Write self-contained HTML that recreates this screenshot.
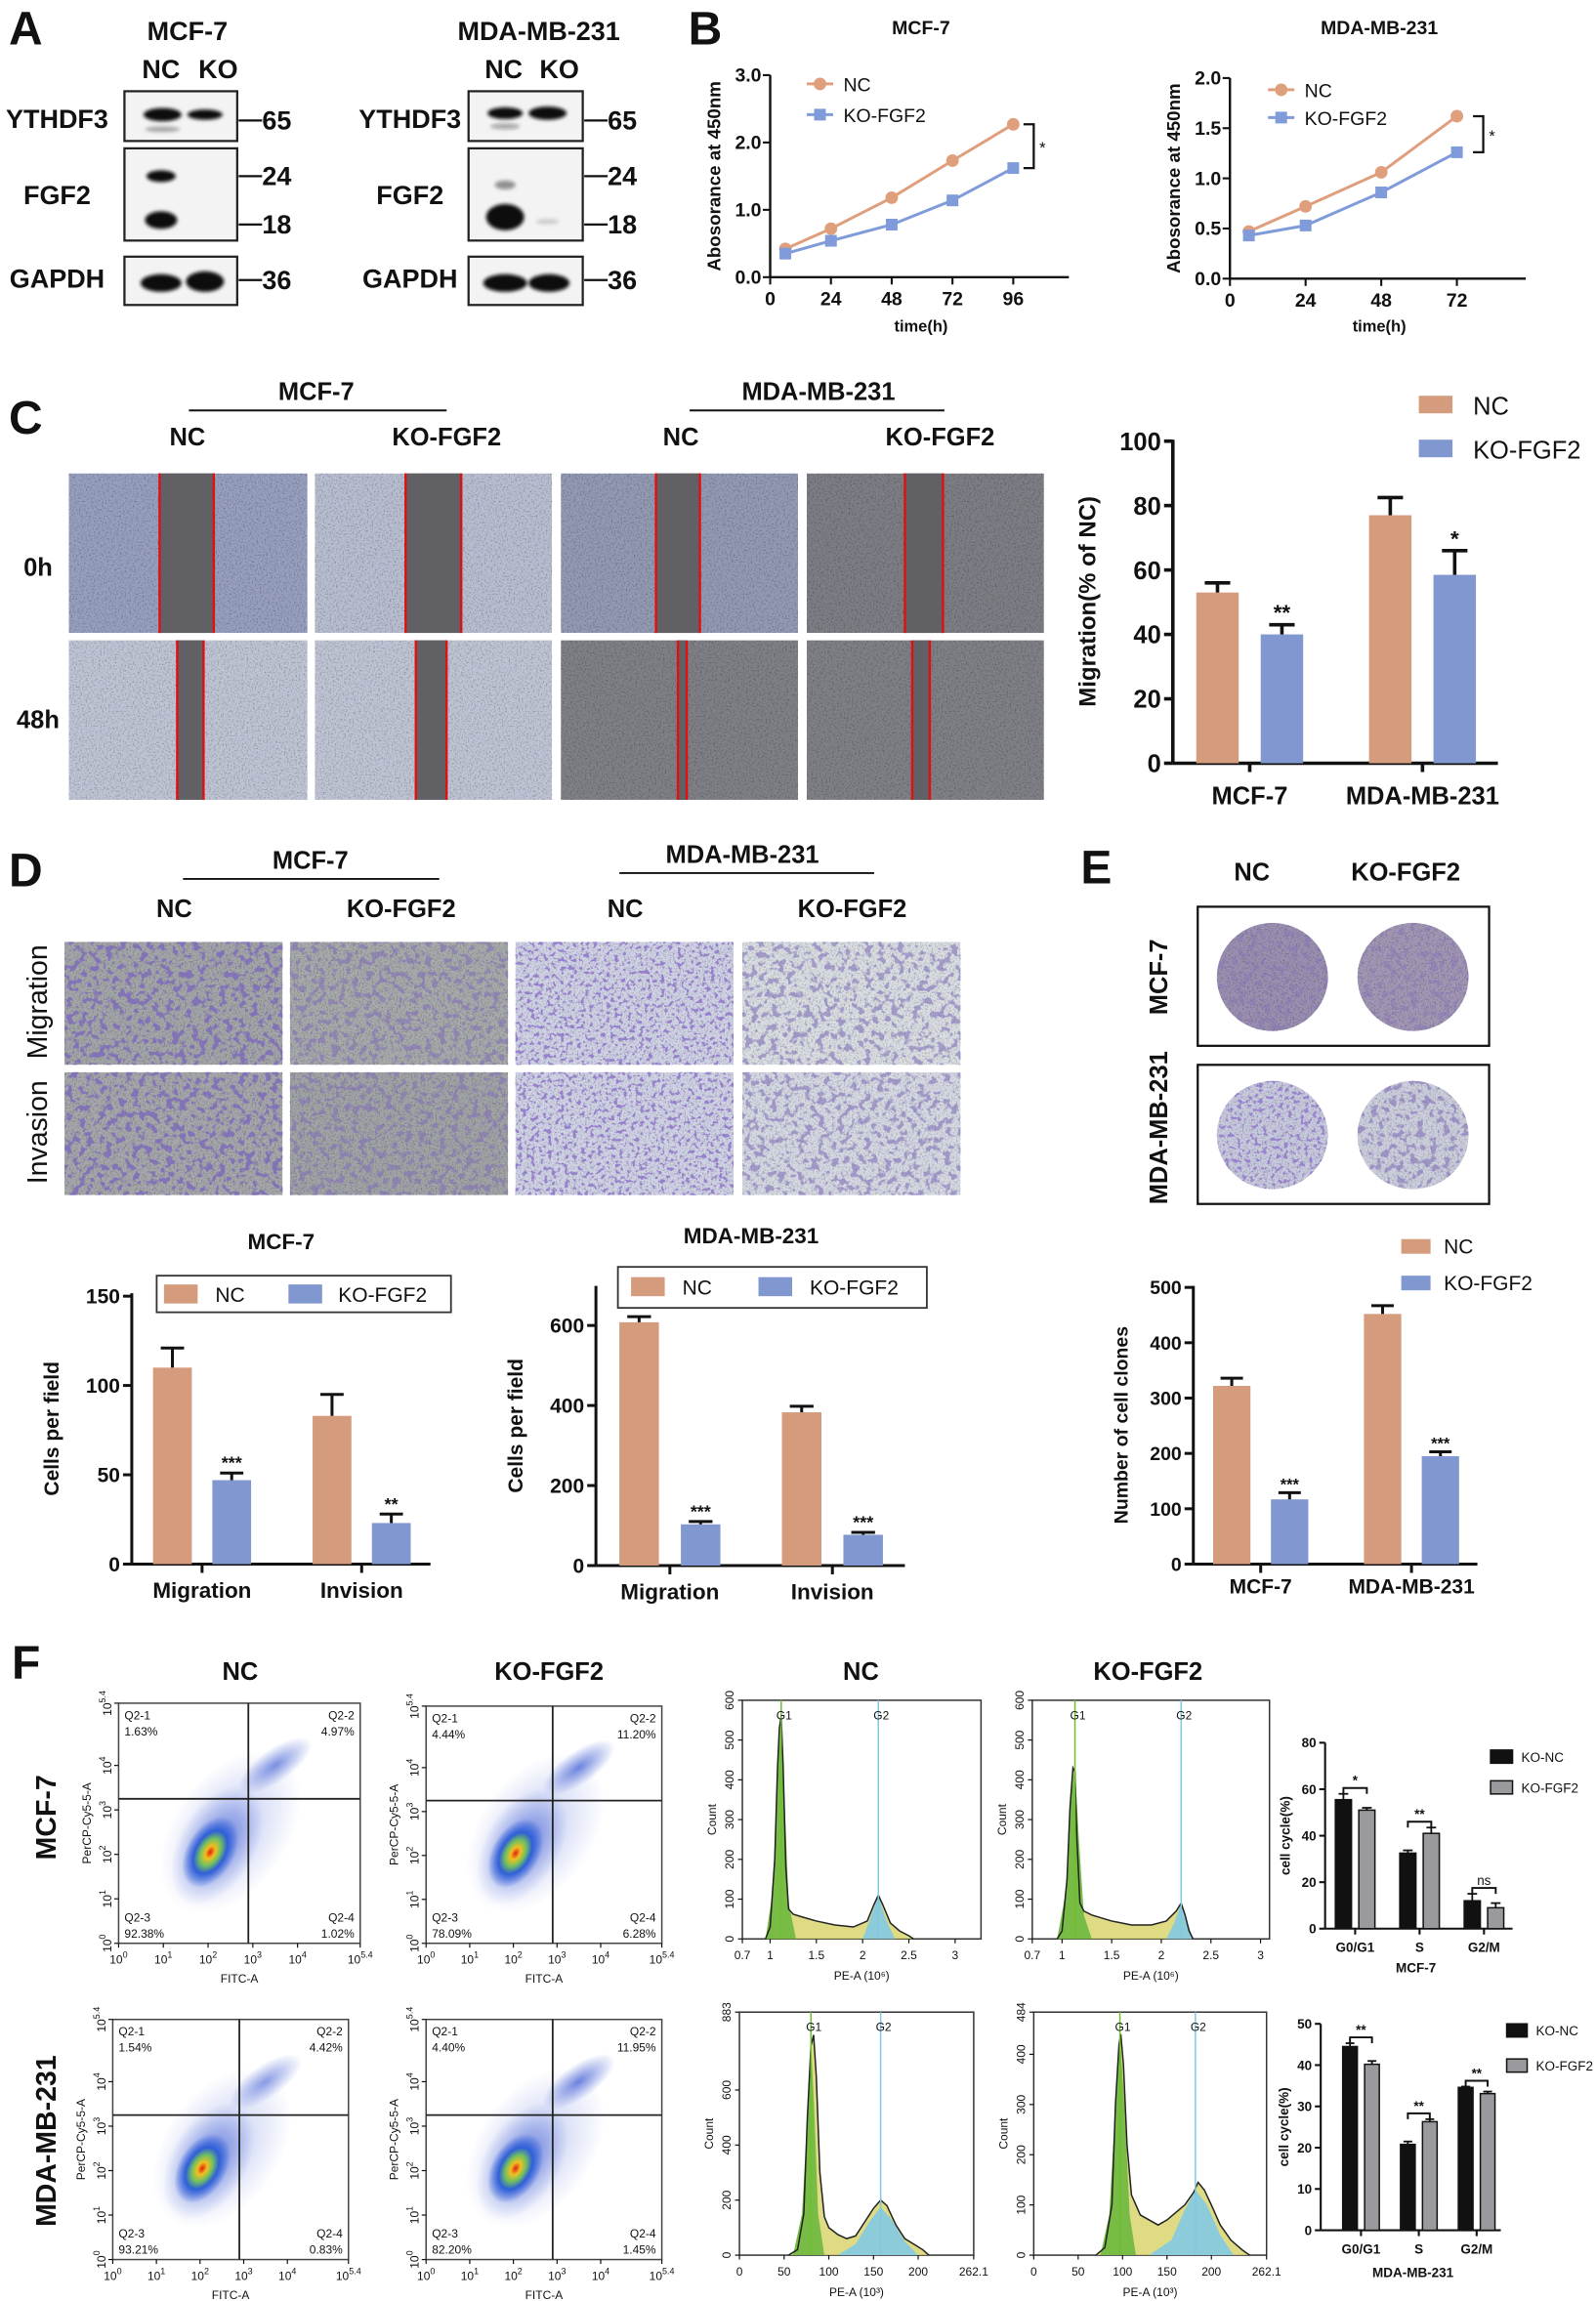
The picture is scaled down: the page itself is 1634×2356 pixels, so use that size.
<!DOCTYPE html>
<html><head><meta charset="utf-8"><title>Figure</title>
<style>
html,body{margin:0;padding:0;background:#fff;}
svg{display:block;font-family:"Liberation Sans",Arial,sans-serif;}
</style></head>
<body>
<svg id="fig" xmlns="http://www.w3.org/2000/svg" width="1634" height="2356" viewBox="0 0 1090 1571">
<defs>
<filter id="tex" x="0" y="0" width="1" height="1">
 <feTurbulence type="fractalNoise" baseFrequency="0.9" numOctaves="2" seed="3" result="n"/>
 <feColorMatrix in="n" type="matrix" values="1.4 0 0 0 0.25  1.4 0 0 0 0.25  1.4 0 0 0 0.25  0 0 0 0 1" result="g"/>
 <feBlend in="SourceGraphic" in2="g" mode="multiply" result="m"/>
 <feComposite in="m" in2="SourceGraphic" operator="in"/>
</filter>
<filter id="blobA" x="0" y="0" width="1" height="1">
 <feTurbulence type="fractalNoise" baseFrequency="0.22" numOctaves="2" seed="7" result="n"/>
 <feColorMatrix in="n" type="matrix" values="0 0 0 0 0.22  0 0 0 0 0.16  0 0 0 0 0.48  10 0 0 0 -5.3" result="b"/>
 <feComposite in="b" in2="SourceGraphic" operator="in"/>
</filter>
<filter id="blobB" x="0" y="0" width="1" height="1">
 <feTurbulence type="fractalNoise" baseFrequency="0.35" numOctaves="2" seed="11" result="n"/>
 <feColorMatrix in="n" type="matrix" values="0 0 0 0 0.3  0 0 0 0 0.2  0 0 0 0 0.6  10 0 0 0 -5.6" result="b"/>
 <feComposite in="b" in2="SourceGraphic" operator="in"/>
</filter>
<filter id="blur1"><feGaussianBlur stdDeviation="1.2"/></filter>
<radialGradient id="dens" cx="50%" cy="50%" r="50%">
 <stop offset="0" stop-color="#e02010"/><stop offset="0.18" stop-color="#f0c020"/>
 <stop offset="0.38" stop-color="#70c060"/><stop offset="0.6" stop-color="#2f5fd8"/>
 <stop offset="1" stop-color="#2f5fd8" stop-opacity="0"/>
</radialGradient>
<radialGradient id="halo" cx="50%" cy="50%" r="50%">
 <stop offset="0" stop-color="#3050d0" stop-opacity="0.7"/><stop offset="1" stop-color="#3050d0" stop-opacity="0"/>
</radialGradient>
</defs>

<g font-weight="bold" font-size="32" fill="#111">
<text x="6" y="30">A</text>
<text x="470" y="30">B</text>
<text x="6" y="296">C</text>
<text x="6" y="605">D</text>
<text x="738" y="603">E</text>
<text x="8" y="1146">F</text>
</g>

<g font-weight="bold" font-size="18" fill="#111">
 <text x="128" y="27" text-anchor="middle">MCF-7</text>
 <text x="368" y="27" text-anchor="middle">MDA-MB-231</text>
 <text x="110" y="53" text-anchor="middle">NC</text>
 <text x="149" y="53" text-anchor="middle">KO</text>
 <text x="344" y="53" text-anchor="middle">NC</text>
 <text x="382" y="53" text-anchor="middle">KO</text>
 <text x="39" y="87" text-anchor="middle">YTHDF3</text>
 <text x="39" y="139" text-anchor="middle">FGF2</text>
 <text x="39" y="196" text-anchor="middle">GAPDH</text>
 <text x="280" y="87" text-anchor="middle">YTHDF3</text>
 <text x="280" y="139" text-anchor="middle">FGF2</text>
 <text x="280" y="196" text-anchor="middle">GAPDH</text>
 <g fill="#f3f3f3" stroke="#222" stroke-width="1.5">
  <rect x="85" y="62" width="77" height="34"/>
  <rect x="85" y="101" width="77" height="63"/>
  <rect x="85" y="175" width="77" height="33"/>
  <rect x="320" y="62" width="78" height="34"/>
  <rect x="320" y="101" width="78" height="63"/>
  <rect x="320" y="175" width="78" height="33"/>
 </g>
 <g fill="#111" filter="url(#blur1)">
  <ellipse cx="111" cy="78" rx="13" ry="4.5"/>
  <ellipse cx="140" cy="78" rx="12" ry="3.5"/>
  <ellipse cx="111" cy="88" rx="12" ry="2" opacity="0.3"/>
  <ellipse cx="110" cy="120" rx="10" ry="4"/>
  <ellipse cx="110" cy="150" rx="11" ry="6"/>
  <ellipse cx="110" cy="193" rx="14" ry="6"/>
  <ellipse cx="140" cy="192" rx="13" ry="7"/>
  <ellipse cx="345" cy="77" rx="12" ry="4"/>
  <ellipse cx="374" cy="77" rx="13" ry="4.5"/>
  <ellipse cx="345" cy="86" rx="10" ry="2" opacity="0.35"/>
  <ellipse cx="345" cy="126" rx="7" ry="3" opacity="0.45"/>
  <ellipse cx="345" cy="148" rx="13" ry="9"/>
  <ellipse cx="374" cy="151" rx="8" ry="2" opacity="0.15"/>
  <ellipse cx="345" cy="193" rx="15" ry="6"/>
  <ellipse cx="375" cy="193" rx="14" ry="6"/>
 </g>
 <g stroke="#111" stroke-width="1.5">
  <line x1="163" y1="82" x2="179" y2="82"/><line x1="163" y1="120" x2="179" y2="120"/>
  <line x1="163" y1="153" x2="179" y2="153"/><line x1="163" y1="191" x2="179" y2="191"/>
  <line x1="399" y1="82" x2="415" y2="82"/><line x1="399" y1="120" x2="415" y2="120"/>
  <line x1="399" y1="153" x2="415" y2="153"/><line x1="399" y1="191" x2="415" y2="191"/>
 </g>
 <text x="179" y="88">65</text>
 <text x="179" y="126">24</text>
 <text x="179" y="159">18</text>
 <text x="179" y="197">36</text>
 <text x="415" y="88">65</text>
 <text x="415" y="126">24</text>
 <text x="415" y="159">18</text>
 <text x="415" y="197">36</text>
</g>

<g font-weight="bold" font-size="17" fill="#111" text-anchor="middle">
 <text x="216" y="273">MCF-7</text>
 <line x1="129" y1="280" x2="305" y2="280" stroke="#111" stroke-width="1.3"/>
 <text x="559" y="273">MDA-MB-231</text>
 <line x1="471" y1="280" x2="645" y2="280" stroke="#111" stroke-width="1.3"/>
 <text x="128" y="304">NC</text>
 <text x="305" y="304">KO-FGF2</text>
 <text x="465" y="304">NC</text>
 <text x="642" y="304">KO-FGF2</text>
 <text x="26" y="393">0h</text>
 <text x="26" y="497">48h</text>
</g>
<g id="cimgs"></g>

<g font-weight="bold" font-size="17" fill="#111" text-anchor="middle">
 <text x="212" y="593">MCF-7</text>
 <line x1="125" y1="600" x2="300" y2="600" stroke="#111" stroke-width="1.3"/>
 <text x="507" y="589">MDA-MB-231</text>
 <line x1="423" y1="596" x2="597" y2="596" stroke="#111" stroke-width="1.3"/>
 <text x="119" y="626">NC</text>
 <text x="274" y="626">KO-FGF2</text>
 <text x="427" y="626">NC</text>
 <text x="582" y="626">KO-FGF2</text>
 <text font-weight="normal" font-size="19" transform="translate(32,684) rotate(-90)">Migration</text>
 <text font-weight="normal" font-size="19" transform="translate(32,773) rotate(-90)">Invasion</text>
</g>
<g id="dimgs"></g>

<g font-weight="bold" font-size="17" fill="#111" text-anchor="middle">
 <text x="855" y="601">NC</text>
 <text x="960" y="601">KO-FGF2</text>
 <text transform="translate(797,667) rotate(-90)">MCF-7</text>
 <text transform="translate(797,770) rotate(-90)">MDA-MB-231</text>
 <rect x="818" y="619" width="199" height="95" fill="none" stroke="#111" stroke-width="1.5"/>
 <rect x="818" y="727" width="199" height="95" fill="none" stroke="#111" stroke-width="1.5"/>
</g>
<g id="eplates"></g>

<g font-weight="bold" font-size="17" fill="#111" text-anchor="middle">
 <text x="164" y="1147">NC</text>
 <text x="375" y="1147">KO-FGF2</text>
 <text x="588" y="1147">NC</text>
 <text x="784" y="1147">KO-FGF2</text>
 <text font-size="19" transform="translate(38,1241) rotate(-90)">MCF-7</text>
 <text font-size="19" transform="translate(38,1462) rotate(-90)">MDA-MB-231</text>
</g>
<g id="charts"></g>
</svg>

<script>
// ===== Data arrays =====
const bTimesMCF=[6,24,48,72,96];
const bNcMCF=[0.42,0.72,1.18,1.73,2.27];
const bKoMCF=[0.35,0.54,0.78,1.14,1.62];
const bXTicksMCF=[0,24,48,72,96];
const bYTicksMCF=[0,1,2,3];
const bYLabelsMCF=['0.0','1.0','2.0','3.0'];
const bTimesMDA=[6,24,48,72];
const bNcMDA=[0.47,0.72,1.06,1.62];
const bKoMDA=[0.43,0.53,0.86,1.26];
const bXTicksMDA=[0,24,48,72];
const bYTicksMDA=[0,0.5,1,1.5,2];
const bYLabelsMDA=['0.0','0.5','1.0','1.5','2.0'];
const cCats=['MCF-7','MDA-MB-231'];
const cNc=[53,77]; const cNcErr=[3,5.5];
const cKo=[40,58.5]; const cKoErr=[3,7.5];
const cStars=['**','*'];
const cTicks=[0,20,40,60,80,100];
const dCats=['Migration','Invision'];
const dMcfNc=[110,83]; const dMcfNcErr=[11,12];
const dMcfKo=[47,23]; const dMcfKoErr=[4,5];
const dMcfStars=['***','**'];
const dMcfTicks=[0,50,100,150];
const dMdaNc=[608,383]; const dMdaNcErr=[14,15];
const dMdaKo=[103,77]; const dMdaKoErr=[7,6];
const dMdaStars=['***','***'];
const dMdaTicks=[0,200,400,600];
const eCats=['MCF-7','MDA-MB-231'];
const eNc=[322,452]; const eNcErr=[14,15];
const eKo=[117,195]; const eKoErr=[12,8];
const eStars=['***','***'];
const eTicks=[0,100,200,300,400,500];
const fCats=['G0/G1','S','G2/M'];
const fMcfNc=[55.5,32.5,12]; const fMcfNcErr=[2.5,1.2,3];
const fMcfKo=[51,41,9]; const fMcfKoErr=[1,2.5,2];
const fMcfSig=['*','**','ns'];
const fMcfTicks=[0,20,40,60,80];
const fMdaNc=[44.5,20.8,34.6]; const fMdaNcErr=[0.8,0.7,0.2];
const fMdaKo=[40.2,26.3,33.1]; const fMdaKoErr=[0.8,0.6,0.5];
const fMdaSig=['**','**','**'];
const fMdaTicks=[0,10,20,30,40,50];
const h1X=[0.95,1.0,1.05,1.08,1.1,1.12,1.14,1.17,1.2,1.25,1.35,1.5,1.7,1.9,2.05,2.12,2.17,2.22,2.3,2.4,2.5,2.55];
const h1Y=[0,30,200,430,530,560,440,180,75,62,55,45,35,30,45,85,110,85,40,20,8,0];
const h1G1X=[0.95,1.03,1.08,1.12,1.16,1.2,1.28]; const h1G1Y=[0,120,420,555,330,90,0];
const h1G2X=[2.0,2.08,2.17,2.25,2.35]; const h1G2Y=[0,50,110,50,0];
const h2X=[0.95,1.0,1.05,1.08,1.11,1.13,1.15,1.18,1.22,1.3,1.5,1.7,1.9,2.05,2.15,2.2,2.24,2.28,2.32];
const h2Y=[0,20,150,330,430,420,250,90,70,60,45,35,35,45,70,90,60,20,0];
const h2G1X=[0.95,1.04,1.09,1.13,1.17,1.22,1.3]; const h2G1Y=[0,120,360,430,250,60,0];
const h2G2X=[2.05,2.13,2.2,2.26,2.32]; const h2G2Y=[0,40,90,45,0];
const h3X=[55,65,72,76,80,83,86,90,95,100,110,120,130,140,150,158,165,175,185,195,205,212];
const h3Y=[0,20,150,500,760,800,650,300,140,100,75,60,70,120,170,200,180,110,60,40,20,0];
const h3G1X=[60,70,76,80,84,88,95]; const h3G1Y=[0,150,500,780,500,150,0];
const h3G2X=[110,130,145,158,170,185,200]; const h3G2Y=[0,40,120,175,130,50,0];
const h4X=[70,80,88,92,96,98,101,105,110,120,130,140,150,160,170,180,185,192,200,210,222,235,243];
const h4Y=[0,15,100,300,420,440,380,220,120,80,70,60,70,85,100,125,145,130,100,60,30,10,0];
const h4G1X=[75,85,92,97,102,108,115]; const h4G1Y=[0,80,300,440,300,80,0];
const h4G2X=[130,155,170,182,195,210,225]; const h4G2Y=[0,30,90,130,100,40,0];
const sQ1=['1.63%','4.97%','92.38%','1.02%'];
const sQ2=['4.44%','11.20%','78.09%','6.28%'];
const sQ3=['1.54%','4.42%','93.21%','0.83%'];
const sQ4=['4.40%','11.95%','82.20%','1.45%'];

const NS='http://www.w3.org/2000/svg';
const root=document.getElementById('charts');
function mk(tag,attrs,name,parent){
  const e=document.createElementNS(NS,tag);
  for(const k in attrs) e.setAttribute(k,attrs[k]);
  
  
  (parent||root).appendChild(e);
  return e;
}
function tx(x,y,s,size,name,opt,parent){
  opt=opt||{};
  const a={x:x,y:y,'font-size':size,fill:opt.fill||'#111','text-anchor':opt.anchor||'middle'};
  if(opt.bold) a['font-weight']='bold';
  if(opt.rot!==undefined){a.transform='rotate('+opt.rot+' '+x+' '+y+')';}
  const t=mk('text',a,name,parent);
  t.textContent=s;
  return t;
}
function ln(x1,y1,x2,y2,w,name,col,parent){
  return mk('line',{x1:x1,y1:y1,x2:x2,y2:y2,stroke:col||'#111','stroke-width':w},name,parent);
}

(function(){
  const g=document.getElementById('cimgs');
  const cols=[[47,163],[215,162],[383,162],[551,162]];
  const rows=[[323,109],[437,109]];
  const base0=['#98a0bf','#b9bfd2','#939ab4','#7e7f86'];
  const gaps=[[[109,146],[277,315],[448,478],[618,644]],[[121,139],[284,305],[463,469],[623,635]]];
  for(let r=0;r<2;r++){for(let c=0;c<4;c++){
    const bc = r===0? base0[c] : (c<2? '#c0c5d6' : '#808187');
    mk('rect',{x:cols[c][0],y:rows[r][0],width:cols[c][1],height:rows[r][1],fill:bc,filter:'url(#tex)'},'wound-image',g);
    const gp=gaps[r][c];
    mk('rect',{x:gp[0],y:rows[r][0],width:gp[1]-gp[0],height:rows[r][1],fill:'#616165'},'wound-gap',g);
    mk('line',{x1:gp[0],y1:rows[r][0],x2:gp[0],y2:rows[r][0]+rows[r][1],stroke:'#e01010','stroke-width':1.6},'wound-edge-line',g);
    mk('line',{x1:gp[1],y1:rows[r][0],x2:gp[1],y2:rows[r][0]+rows[r][1],stroke:'#e01010','stroke-width':1.6},'wound-edge-line',g);
  }}
  const gd=document.getElementById('dimgs');
  const dc=[44,198,352,507], dw=149, drows=[643,732], dh=84;
  const dbase=[['#a4a7aa','#a8abac','#d0d4e6','#dadfe4'],['#a6a8ac','#a2a5a7','#d0d4e6','#d6dae4']];
  for(let r=0;r<2;r++){for(let c=0;c<4;c++){
    mk('rect',{x:dc[c],y:drows[r],width:dw,height:dh,fill:dbase[r][c],filter:'url(#tex)'},'transwell-image',gd);
    mk('rect',{x:dc[c],y:drows[r],width:dw,height:dh,fill:'#000',filter:(c===2)?'url(#blobB)':'url(#blobA)',opacity:(c===1||c===3)?0.6:0.95},'stained-cells',gd);
  }}
  const ge=document.getElementById('eplates');
  const pl=[[869,667,'#9c91b2'],[965,667,'#a398b6'],[869,775,'#c9cce0'],[965,775,'#cdd0de']];
  pl.forEach(function(p,i){
    mk('ellipse',{cx:p[0],cy:p[1],rx:38,ry:37,fill:p[2],filter:'url(#tex)'},'colony-plate',ge);
    mk('ellipse',{cx:p[0],cy:p[1],rx:38,ry:37,fill:'#000',filter:i===2?'url(#blobB)':'url(#blobA)',opacity:i===2?0.9:(i===3?0.6:0.4)},'colonies',ge);
  });
})();

function lineChart(c){
  const g=mk('g',{},c.name);
  const X=t=>c.ox+t*c.pxPerH;
  const Y=v=>c.oy-v/c.yMax*(c.oy-c.yTop);
  ln(c.ox,c.yTop,c.ox,c.oy,1.6,'y-axis',null,g);
  ln(c.ox,c.oy,c.xEnd,c.oy,1.6,'x-axis',null,g);
  c.yTicks.forEach(function(v,i){
    ln(c.ox-5,Y(v),c.ox,Y(v),1.4,'y-tick',null,g);
    tx(c.ox-6,Y(v)+4.5,c.yLabels[i],13,'y-tick-label',{bold:1,anchor:'end'},g);
  });
  c.xTicks.forEach(function(v){
    ln(X(v),c.oy,X(v),c.oy+5,1.4,'x-tick',null,g);
    tx(X(v),c.oy+19,String(v),13,'x-tick-label',{bold:1},g);
  });
  tx(c.titleX,23,c.title,13,'chart-title',{bold:1},g);
  tx(c.titleX,226,'time(h)',11,'x-axis-title',{bold:1},g);
  tx(c.ytX,(c.yTop+c.oy)/2,'Abosorance at 450nm',12.5,'y-axis-title',{bold:1,rot:-90},g);
  function series(vals,col,sq,nm){
    let d='';
    c.times.forEach(function(t,i){d+=(i?'L':'M')+X(t)+' '+Y(vals[i]);});
    mk('path',{d:d,fill:'none',stroke:col,'stroke-width':2},nm+'-line',g);
    c.times.forEach(function(t,i){
      if(sq) mk('rect',{x:X(t)-4,y:Y(vals[i])-4,width:8,height:8,fill:col},nm+'-point',g);
      else mk('circle',{cx:X(t),cy:Y(vals[i]),r:4.3,fill:col},nm+'-point',g);
    });
  }
  series(c.nc,'#df9f7d',false,'nc');
  series(c.ko,'#7f9bd9',true,'ko');
  ln(c.lx-9,c.ly1,c.lx+9,c.ly1,2,'legend-nc-line','#df9f7d',g);
  mk('circle',{cx:c.lx,cy:c.ly1,r:4.3,fill:'#df9f7d'},'legend-nc-marker',g);
  tx(c.lx+16,c.ly1+5,'NC',13,'legend-nc-label',{anchor:'start'},g);
  ln(c.lx-9,c.ly2,c.lx+9,c.ly2,2,'legend-ko-line','#7f9bd9',g);
  mk('rect',{x:c.lx-4,y:c.ly2-4,width:8,height:8,fill:'#7f9bd9'},'legend-ko-marker',g);
  tx(c.lx+16,c.ly2+5,'KO-FGF2',13,'legend-ko-label',{anchor:'start'},g);
  const last=c.times.length-1;
  const ya=Y(c.nc[last]), yb=Y(c.ko[last]);
  mk('path',{d:'M'+c.bx+' '+ya+'H'+(c.bx+7)+'V'+yb+'H'+c.bx,fill:'none',stroke:'#111','stroke-width':1.5},'significance-bracket',g);
  tx(c.bx+13,(ya+yb)/2+5,'*',11,'significance-star',{},g);
}
lineChart({name:'growth-chart-mcf7',ox:526,oy:189,yTop:51,yMax:3,pxPerH:166/96,xEnd:730,times:bTimesMCF,nc:bNcMCF,ko:bKoMCF,
  xTicks:bXTicksMCF,yTicks:bYTicksMCF,yLabels:bYLabelsMCF,title:'MCF-7',titleX:629,ytX:492,lx:560,ly1:57,ly2:78,bx:699});
lineChart({name:'growth-chart-mda',ox:840,oy:190,yTop:53,yMax:2,pxPerH:155/72,xEnd:1042,times:bTimesMDA,nc:bNcMDA,ko:bKoMDA,
  xTicks:bXTicksMDA,yTicks:bYTicksMDA,yLabels:bYLabelsMDA,title:'MDA-MB-231',titleX:942,ytX:806,lx:875,ly1:61,ly2:80,bx:1006});

function barChart(c){
  const g=mk('g',{},c.name);
  const Y=v=>c.y0-v/c.vTop*(c.y0-c.yTopPx);
  const lw=c.lw||2;
  ln(c.ax,c.axisTop,c.ax,c.y0,lw,'y-axis',null,g);
  ln(c.ax,c.y0,c.axEnd,c.y0,lw,'x-axis',null,g);
  c.ticks.forEach(function(v){
    ln(c.ax-c.tl,Y(v),c.ax,Y(v),lw,'y-tick',null,g);
    tx(c.ax-c.tl-2,Y(v)+c.tfs*0.36,String(v),c.tfs,'y-tick-label',{bold:1,anchor:'end'},g);
  });
  c.cats.forEach(function(cat,i){
    const cx=c.c0+i*c.band;
    ln(cx,c.y0,cx,c.y0+c.tl,lw,'x-tick',null,g);
    tx(cx,c.catY,cat,c.cfs,'category-label',{bold:1},g);
    const x1=cx-c.gap/2-c.w, x2=cx+c.gap/2;
    const v1=c.s1[i], v2=c.s2[i];
    mk('rect',{x:x1,y:Y(v1),width:c.w,height:c.y0-Y(v1),fill:c.col1,stroke:c.stroke||'none','stroke-width':c.stroke?1:0},'bar-nc-'+i,g);
    mk('rect',{x:x2,y:Y(v2),width:c.w,height:c.y0-Y(v2),fill:c.col2,stroke:c.stroke||'none','stroke-width':c.stroke?1:0},'bar-ko-'+i,g);
    const ew=c.ew||lw;
    [[x1,v1,c.e1[i]],[x2,v2,c.e2[i]]].forEach(function(b){
      const bx=b[0]+c.w/2;
      ln(bx,Y(b[1]),bx,Y(b[1]+b[2]),ew,'error-bar',null,g);
      ln(bx-c.w*0.3,Y(b[1]+b[2]),bx+c.w*0.3,Y(b[1]+b[2]),ew,'error-cap',null,g);
    });
    if(c.stars){
      tx(x2+c.w/2,Y(v2+c.e2[i])-c.starOff,c.stars[i],c.sfs,'significance-star',{bold:1},g);
    }
    if(c.sig){
      const top=Math.min(Y(v1+c.e1[i]),Y(v2+c.e2[i]))-c.bOff;
      const a=x1+c.w/2, b=x2+c.w/2;
      mk('path',{d:'M'+a+' '+(top+4)+'V'+top+'H'+b+'V'+(top+4),fill:'none',stroke:'#111','stroke-width':1.3},'significance-bracket',g);
      tx((a+b)/2,top-2,c.sig[i],c.sfs,'significance-label',{bold:c.sig[i]!=='ns'},g);
    }
  });
  tx(c.ytX,(c.axisTop+c.y0)/2,c.yTitle,c.ytfs,'y-axis-title',{bold:1,rot:-90},g);
  if(c.title) tx(c.titleX,c.titleY,c.title,c.titleFs,'chart-title',{bold:1},g);
  if(c.sub) tx(c.subX,c.subY,c.sub,c.cfs,'x-axis-title',{bold:1},g);
  const L=c.leg;
  if(L.box) mk('rect',{x:L.box[0],y:L.box[1],width:L.box[2],height:L.box[3],fill:'#fff',stroke:'#333','stroke-width':1.2},'legend-box',g);
  mk('rect',{x:L.s1[0],y:L.s1[1],width:L.sw,height:L.sh,fill:c.col1,stroke:c.stroke||'none'},'legend-swatch-nc',g);
  tx(L.t1[0],L.t1[1],L.n1,L.fs,'legend-label-nc',{anchor:'start'},g);
  mk('rect',{x:L.s2[0],y:L.s2[1],width:L.sw,height:L.sh,fill:c.col2,stroke:c.stroke||'none'},'legend-swatch-ko',g);
  tx(L.t2[0],L.t2[1],L.n2,L.fs,'legend-label-ko',{anchor:'start'},g);
}
const NCC='#d49b7c', KOC='#8098cf';
barChart({name:'migration-chart-c',ax:801,axEnd:1023,y0:521,vTop:100,yTopPx:301,axisTop:300,ticks:cTicks,tl:6,tfs:17,
  cats:cCats,c0:853.5,band:118,w:29,gap:15,s1:cNc,e1:cNcErr,s2:cKo,e2:cKoErr,col1:NCC,col2:KOC,stars:cStars,starOff:3,sfs:15,
  catY:549,cfs:17,lw:2.4,ytX:748,yTitle:'Migration(% of NC)',ytfs:16,
  leg:{s1:[969,270],s2:[969,300],sw:23,sh:12,t1:[1006,283],t2:[1006,313],n1:'NC',n2:'KO-FGF2',fs:17}});
barChart({name:'transwell-chart-mcf7',ax:90,axEnd:294,y0:1068,vTop:150,yTopPx:885,axisTop:883,ticks:dMcfTicks,tl:6,tfs:14,
  cats:dCats,c0:138,band:109,w:26.5,gap:14,s1:dMcfNc,e1:dMcfNcErr,s2:dMcfKo,e2:dMcfKoErr,col1:NCC,col2:KOC,stars:dMcfStars,starOff:3,sfs:12,
  catY:1091,cfs:15,lw:2,ytX:40,yTitle:'Cells per field',ytfs:14,title:'MCF-7',titleX:192,titleY:853,titleFs:15,
  leg:{box:[107,871,201,25],s1:[112,877],s2:[197,877],sw:23,sh:13,t1:[147,889],t2:[231,889],n1:'NC',n2:'KO-FGF2',fs:14}});
barChart({name:'transwell-chart-mda',ax:407,axEnd:618,y0:1069,vTop:600,yTopPx:905,axisTop:878,ticks:dMdaTicks,tl:6,tfs:14,
  cats:dCats,c0:457.5,band:111,w:27,gap:15,s1:dMdaNc,e1:dMdaNcErr,s2:dMdaKo,e2:dMdaKoErr,col1:NCC,col2:KOC,stars:dMdaStars,starOff:3,sfs:12,
  catY:1092,cfs:15,lw:2,ytX:357,yTitle:'Cells per field',ytfs:14,title:'MDA-MB-231',titleX:513,titleY:849,titleFs:15,
  leg:{box:[422,865,211,28],s1:[431,872],s2:[518,872],sw:23,sh:13,t1:[466,884],t2:[553,884],n1:'NC',n2:'KO-FGF2',fs:14}});
barChart({name:'colony-chart-e',ax:815,axEnd:1009,y0:1068,vTop:500,yTopPx:879,axisTop:878,ticks:eTicks,tl:6,tfs:13,
  cats:eCats,c0:861,band:103,w:25.5,gap:14,s1:eNc,e1:eNcErr,s2:eKo,e2:eKoErr,col1:NCC,col2:KOC,stars:eStars,starOff:2,sfs:11,
  catY:1088,cfs:14,lw:2,ytX:770,yTitle:'Number of cell clones',ytfs:13,
  leg:{s1:[957,846],s2:[957,871],sw:20,sh:10,t1:[986,856],t2:[986,881],n1:'NC',n2:'KO-FGF2',fs:14}});
barChart({name:'cell-cycle-chart-mcf7',ax:905,axEnd:1033,y0:1317,vTop:80,yTopPx:1190,axisTop:1190,ticks:fMcfTicks,tl:4,tfs:9,
  cats:fCats,c0:925.5,band:44,w:11,gap:5,s1:fMcfNc,e1:fMcfNcErr,s2:fMcfKo,e2:fMcfKoErr,col1:'#111',col2:'#9a9a9e',stroke:'#111',sig:fMcfSig,bOff:4,sfs:9,
  catY:1333,cfs:9,lw:1.4,ew:1.2,ytX:881,yTitle:'cell cycle(%)',ytfs:9,sub:'MCF-7',subX:967,subY:1347,
  leg:{s1:[1018,1195],s2:[1018,1216],sw:15,sh:9,t1:[1039,1203],t2:[1039,1224],n1:'KO-NC',n2:'KO-FGF2',fs:9}});
barChart({name:'cell-cycle-chart-mda',ax:902,axEnd:1025,y0:1523,vTop:50,yTopPx:1382,axisTop:1382,ticks:fMdaTicks,tl:4,tfs:9,
  cats:fCats,c0:929.5,band:39.5,w:10,gap:5,s1:fMdaNc,e1:fMdaNcErr,s2:fMdaKo,e2:fMdaKoErr,col1:'#111',col2:'#9a9a9e',stroke:'#111',sig:fMdaSig,bOff:4,sfs:9,
  catY:1539,cfs:9,lw:1.4,ew:1.2,ytX:880,yTitle:'cell cycle(%)',ytfs:9,sub:'MDA-MB-231',subX:965,subY:1555,
  leg:{s1:[1029,1382],s2:[1029,1406],sw:14,sh:9,t1:[1049,1390],t2:[1049,1414],n1:'KO-NC',n2:'KO-FGF2',fs:9}});

function histo(c){
  const g=mk('g',{},c.name);
  const X=v=>c.px0+(v-c.xmin)/(c.xmax-c.xmin)*(c.px1-c.px0);
  const Y=v=>c.py0-v/c.ymax*(c.py0-c.pyTop);
  function poly(xs,ys){let d='M'+X(xs[0])+' '+c.py0;xs.forEach(function(x,i){d+='L'+X(x)+' '+Y(ys[i]);});return d+'L'+X(xs[xs.length-1])+' '+c.py0+'Z';}
  function line(xs,ys){let d='';xs.forEach(function(x,i){d+=(i?'L':'M')+X(x)+' '+Y(ys[i]);});return d;}
  mk('rect',{x:c.px0,y:c.pyTop,width:c.px1-c.px0,height:c.py0-c.pyTop,fill:'#fff',stroke:'#333','stroke-width':1},'histogram-frame',g);
  mk('path',{d:poly(c.xs,c.ys),fill:'#d9d46e',opacity:0.85},'s-phase-area',g);
  mk('path',{d:poly(c.g2x,c.g2y),fill:'#8ccbd9'},'g2-peak',g);
  mk('path',{d:poly(c.g1x,c.g1y),fill:'#78bb45'},'g1-peak',g);
  mk('path',{d:line(c.xs,c.ys),fill:'none',stroke:'#222','stroke-width':1},'histogram-outline',g);
  const gx1=X(c.g1x[3]), gx2=X(c.g2x[Math.floor(c.g2x.length/2)]);
  ln(gx1,c.pyTop,gx1,c.py0,1,'g1-marker-line','#6cc030',g);
  ln(gx2,c.pyTop,gx2,c.py0,1,'g2-marker-line','#80c8e0',g);
  tx(gx1+2,c.pyTop+13,'G1',8,'g1-label',{},g);
  tx(gx2+2,c.pyTop+13,'G2',8,'g2-label',{},g);
  c.yt.forEach(function(v){
    ln(c.px0-3,Y(v),c.px0,Y(v),0.8,'y-tick',null,g);
    tx(c.px0-6,Y(v),String(v),8,'y-tick-label',{rot:-90},g);
  });
  c.xt.forEach(function(v,i){
    ln(X(v),c.py0,X(v),c.py0+3,0.8,'x-tick',null,g);
    tx(X(v),c.py0+14,c.xtl[i],8,'x-tick-label',{},g);
  });
  tx(c.px0-18,(c.py0+c.pyTop)/2,'Count',8,'y-axis-title',{rot:-90},g);
  tx((c.px0+c.px1)/2,c.py0+28,c.xTitle,8,'x-axis-title',{},g);
}
histo({name:'histogram-mcf7-nc',xmin:0.7,xmax:3.28,px0:507,px1:670,py0:1324,pyTop:1161,ymax:600,xs:h1X,ys:h1Y,g1x:h1G1X,g1y:h1G1Y,g2x:h1G2X,g2y:h1G2Y,
  yt:[0,100,200,300,400,500,600],xt:[0.7,1,1.5,2,2.5,3],xtl:['0.7','1','1.5','2','2.5','3'],xTitle:'PE-A (10\u2076)'});
histo({name:'histogram-mcf7-ko',xmin:0.7,xmax:3.09,px0:705,px1:867,py0:1324,pyTop:1161,ymax:600,xs:h2X,ys:h2Y,g1x:h2G1X,g1y:h2G1Y,g2x:h2G2X,g2y:h2G2Y,
  yt:[0,100,200,300,400,500,600],xt:[0.7,1,1.5,2,2.5,3],xtl:['0.7','1','1.5','2','2.5','3'],xTitle:'PE-A (10\u2076)'});
histo({name:'histogram-mda-nc',xmin:0,xmax:262.1,px0:505,px1:665,py0:1540,pyTop:1374,ymax:883,xs:h3X,ys:h3Y,g1x:h3G1X,g1y:h3G1Y,g2x:h3G2X,g2y:h3G2Y,
  yt:[0,200,400,600,883],xt:[0,50,100,150,200,262.1],xtl:['0','50','100','150','200','262.1'],xTitle:'PE-A (10\u00b3)'});
histo({name:'histogram-mda-ko',xmin:0,xmax:262.1,px0:706,px1:865,py0:1540,pyTop:1374,ymax:484,xs:h4X,ys:h4Y,g1x:h4G1X,g1y:h4G1Y,g2x:h4G2X,g2y:h4G2Y,
  yt:[0,100,200,300,400,484],xt:[0,50,100,150,200,262.1],xtl:['0','50','100','150','200','262.1'],xTitle:'PE-A (10\u00b3)'});

function scatter(c){
  const g=mk('g',{},c.name);
  const w=c.x1-c.x0, h=c.y1-c.y0;
  const X=e=>c.x0+e/5.4*w, Y=e=>c.y1-e/5.4*h;
  mk('rect',{x:c.x0,y:c.y0,width:w,height:h,fill:'#fff',stroke:'#444','stroke-width':1},'scatter-frame',g);
  mk('ellipse',{cx:X(2.5),cy:Y(2.5),rx:w*0.38,ry:h*0.24,fill:'url(#halo)',opacity:0.45,transform:'rotate(-55 '+X(2.5)+' '+Y(2.5)+')'},'population-spread',g);
  mk('ellipse',{cx:X(2.2),cy:Y(2.2),rx:w*0.27,ry:h*0.16,fill:'url(#halo)',opacity:0.9,transform:'rotate(-60 '+X(2.2)+' '+Y(2.2)+')'},'population-halo',g);
  mk('ellipse',{cx:X(3.5),cy:Y(4.0),rx:w*0.18,ry:h*0.07,fill:'url(#halo)',opacity:c.tail,transform:'rotate(-35 '+X(3.5)+' '+Y(4.0)+')'},'apoptotic-population',g);
  mk('ellipse',{cx:X(2.05),cy:Y(2.05),rx:w*0.16,ry:h*0.1,fill:'url(#dens)',transform:'rotate(-60 '+X(2.05)+' '+Y(2.05)+')'},'live-population-density',g);
  ln(X(2.9),c.y0,X(2.9),c.y1,1.2,'quadrant-vline','#222',g);
  ln(c.x0,Y(3.25),c.x1,Y(3.25),1.2,'quadrant-hline','#222',g);
  const q=c.q;
  tx(c.x0+4,c.y0+11,'Q2-1',8,'quadrant-label',{anchor:'start'},g);
  tx(c.x0+4,c.y0+22,q[0],8,'quadrant-value',{anchor:'start'},g);
  tx(c.x1-4,c.y0+11,'Q2-2',8,'quadrant-label',{anchor:'end'},g);
  tx(c.x1-4,c.y0+22,q[1],8,'quadrant-value',{anchor:'end'},g);
  tx(c.x0+4,c.y1-15,'Q2-3',8,'quadrant-label',{anchor:'start'},g);
  tx(c.x0+4,c.y1-4,q[2],8,'quadrant-value',{anchor:'start'},g);
  tx(c.x1-4,c.y1-15,'Q2-4',8,'quadrant-label',{anchor:'end'},g);
  tx(c.x1-4,c.y1-4,q[3],8,'quadrant-value',{anchor:'end'},g);
  const ex=[0,1,2,3,4,5.4];
  ex.forEach(function(e){
    ln(X(e),c.y1,X(e),c.y1+3,0.8,'x-tick',null,g);
    const t=tx(X(e),c.y1+14,'10',8,'x-tick-label',{},g);
    const s=document.createElementNS(NS,'tspan');
    s.setAttribute('dy','-4');s.setAttribute('font-size','6');s.textContent=String(e);
    t.appendChild(s);
    ln(c.x0-3,Y(e),c.x0,Y(e),0.8,'y-tick',null,g);
    const t2=tx(c.x0-5,Y(e),'10',8,'y-tick-label',{rot:-90},g);
    const s2=document.createElementNS(NS,'tspan');
    s2.setAttribute('dy','-4');s2.setAttribute('font-size','6');s2.textContent=String(e);
    t2.appendChild(s2);
  });
  tx((c.x0+c.x1)/2,c.y1+27,'FITC-A',8,'x-axis-title',{},g);
  tx(c.x0-19,(c.y0+c.y1)/2,'PerCP-Cy5-5-A',8,'y-axis-title',{rot:-90},g);
}
scatter({name:'flow-scatter-mcf7-nc',x0:81,x1:246,y0:1163,y1:1327,q:sQ1,tail:0.9});
scatter({name:'flow-scatter-mcf7-ko',x0:291,x1:452,y0:1165,y1:1327,q:sQ2,tail:1});
scatter({name:'flow-scatter-mda-nc',x0:77,x1:238,y0:1379,y1:1543,q:sQ3,tail:0.8});
scatter({name:'flow-scatter-mda-ko',x0:291,x1:452,y0:1379,y1:1543,q:sQ4,tail:1});
</script>
</body></html>
